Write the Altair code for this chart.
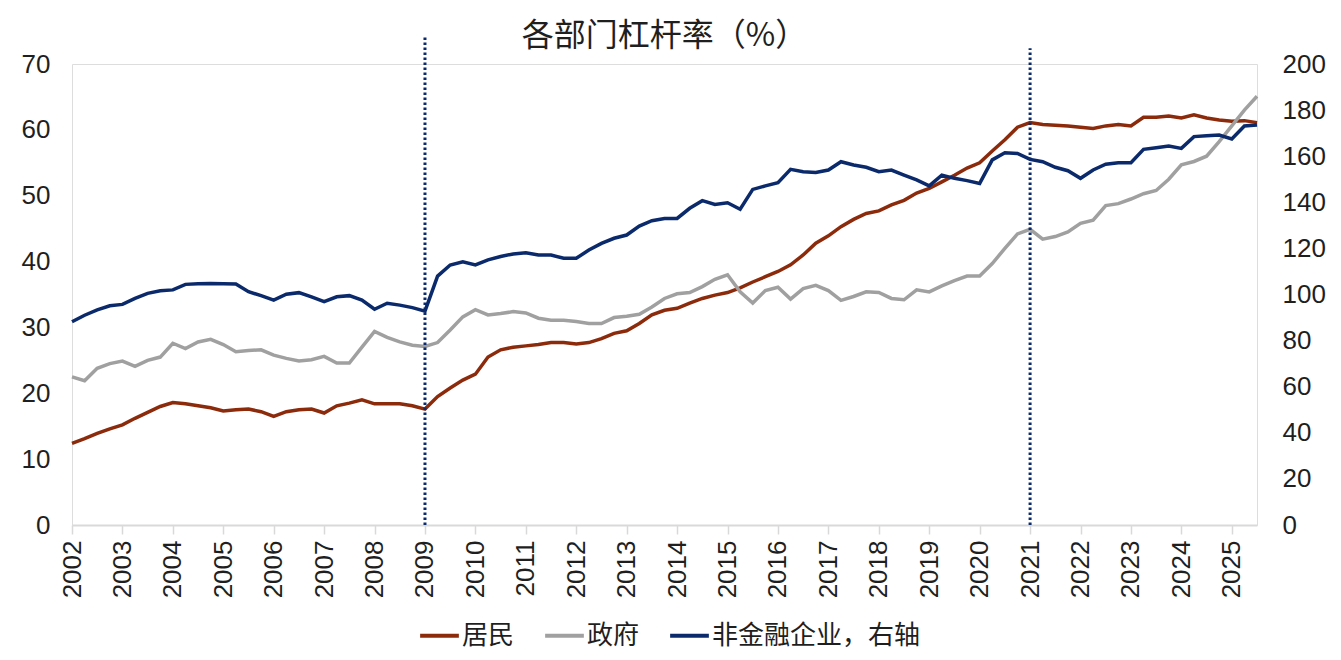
import altair as alt
import pandas as pd

# ---------------- data (quarterly) ----------------
year_ticks = list(range(2002, 2026))
series_names = ["居民", "政府", "非金融企业，右轴"]
series_colors = ["#8C2A0C", "#A0A0A0", "#0B2A6B"]

household = [
    12.4, 13.1, 13.9, 14.6,
    15.2, 16.2, 17.1, 18.0,
    18.6, 18.4, 18.1, 17.8,
    17.3, 17.5, 17.6, 17.2,
    16.5, 17.2, 17.5, 17.6,
    17.0, 18.1, 18.5, 19.0,
    18.4, 18.4, 18.4, 18.1,
    17.6, 19.5, 20.8, 22.0,
    22.9, 25.5, 26.6, 27.0,
    27.2, 27.4, 27.7, 27.7,
    27.5, 27.7, 28.3, 29.1,
    29.5, 30.6, 31.9, 32.6,
    32.9, 33.7, 34.4, 34.9,
    35.3, 36.0, 36.9, 37.7,
    38.5, 39.5, 41.0, 42.8,
    43.9, 45.3, 46.4, 47.3,
    47.7, 48.6, 49.3, 50.4,
    51.1, 52.1, 53.1, 54.2,
    55.0, 56.8, 58.5, 60.4,
    61.1, 60.8, 60.7, 60.6,
    60.4, 60.2, 60.6, 60.8,
    60.6, 61.9, 61.9, 62.1,
    61.8, 62.3, 61.8, 61.5,
    61.3, 61.4, 61.1,
]

government = [
    22.5, 21.9, 23.8, 24.5,
    24.9, 24.1, 25.0, 25.5,
    27.6, 26.8, 27.8, 28.2,
    27.4, 26.3, 26.5, 26.6,
    25.8, 25.3, 24.9, 25.1,
    25.6, 24.6, 24.6, 27.0,
    29.4, 28.5, 27.8, 27.3,
    27.1, 27.7, 29.6, 31.6,
    32.7, 31.9, 32.1, 32.4,
    32.2, 31.4, 31.1, 31.1,
    30.9, 30.6, 30.6, 31.5,
    31.7, 32.0, 33.1, 34.4,
    35.1, 35.3, 36.2, 37.3,
    38.0, 35.4, 33.7, 35.6,
    36.1, 34.3, 35.9, 36.4,
    35.6, 34.1, 34.7, 35.4,
    35.3, 34.4, 34.2, 35.7,
    35.4, 36.3, 37.1, 37.8,
    37.8, 39.7, 42.0, 44.2,
    44.9, 43.4, 43.8, 44.5,
    45.8, 46.3, 48.5, 48.8,
    49.5, 50.3, 50.8, 52.5,
    54.7, 55.2, 56.0, 58.2,
    60.6, 63.0, 65.1,
]

nonfinancial = [
    88.2, 91.0, 93.3, 95.1,
    95.7, 98.3, 100.5, 101.6,
    102.0, 104.4, 104.7, 104.8,
    104.7, 104.6, 101.2, 99.5,
    97.6, 100.1, 100.8, 99.0,
    96.9, 99.0, 99.5, 97.6,
    93.6, 96.2, 95.4, 94.3,
    92.8, 108.0, 112.8, 114.2,
    112.8, 115.0, 116.5, 117.6,
    118.1, 117.1, 117.1, 115.7,
    115.7, 119.3, 122.2, 124.4,
    125.8, 129.7, 132.0, 133.0,
    133.0, 137.4, 140.7, 139.1,
    139.8, 137.0, 145.6, 147.1,
    148.5, 154.3, 153.3, 152.9,
    154.0, 157.6, 156.2, 155.2,
    153.3, 154.0, 151.8, 149.7,
    147.1, 151.8, 150.4, 149.4,
    148.2, 158.4, 161.5, 161.2,
    158.6, 157.6, 155.2, 153.7,
    150.4, 154.0, 156.5, 157.2,
    157.2, 163.0, 163.7, 164.4,
    163.4, 168.5, 168.9, 169.2,
    167.5, 173.1, 173.5,
]

# quarter positions on the time axis: 2002Q1 .. 2025Q3
quarters = [y + k / 4 for y in range(2002, 2026) for k in range(4)][: len(household)]

# dotted marker lines (left-axis units for bottom / top)
vline_x = [2009, 2021]
vline_bottom = [0, 0]
vline_top = [74.4, 72.4]

# ---------------- tables ----------------
left_df = pd.DataFrame(
    {"q": quarters * 2,
     "v": household + government,
     "s": [series_names[0]] * len(household) + [series_names[1]] * len(government)}
)
right_df = pd.DataFrame(
    {"q": quarters, "v": nonfinancial, "s": [series_names[2]] * len(nonfinancial)}
)
rule_df = pd.DataFrame({"q": vline_x, "y0": vline_bottom, "y1": vline_top})

# ---------------- styling ----------------
LAT = "Liberation Sans"
CJK = "Noto Sans CJK SC"
TXT = "#1f1f1f"
NAVY = "#0B2A6B"

x_enc = alt.X(
    "q:Q",
    title=None,
    scale=alt.Scale(domain=[2002, 2025.5], nice=False, zero=False),
    axis=alt.Axis(
        values=year_ticks, format="d", labelAngle=270, labelFont=LAT,
        labelFontSize=26, labelColor=TXT, labelPadding=6,
        ticks=True, tickSize=9, tickColor="#D9D9D9", tickWidth=1.5,
        domainColor="#D9D9D9", domainWidth=2, grid=False, labelFlush=False,
        labelOverlap=False,
    ),
)

left_scale = alt.Scale(domain=[0, 70], nice=False, zero=True)
left_axis = alt.Axis(
    orient="left", values=list(range(0, 71, 10)), domain=False, ticks=False,
    grid=False, labelFont=LAT, labelFontSize=26, labelColor=TXT, labelPadding=22,
)
right_axis = alt.Axis(
    orient="right", values=list(range(0, 201, 20)), domain=False, ticks=False,
    grid=False, labelFont=LAT, labelFontSize=26, labelColor=TXT, labelPadding=25,
)

color_scale = alt.Scale(domain=series_names, range=series_colors)
legend = alt.Legend(
    orient="none", legendX=346, legendY=550, direction="horizontal", title=None,
    symbolType="stroke", symbolSize=1500, symbolStrokeWidth=4,
    labelFont=CJK, labelFontSize=26, labelColor=TXT, labelOffset=1,
    labelLimit=500, columnPadding=22,
)
color_enc = alt.Color("s:N", scale=color_scale, legend=legend,
                      sort=series_names)

lines_left = alt.Chart(left_df).mark_line(strokeWidth=3.5).encode(
    x=x_enc,
    y=alt.Y("v:Q", scale=left_scale, axis=left_axis, title=None),
    color=color_enc,
)

rules = alt.Chart(rule_df).mark_rule(
    color=NAVY, strokeWidth=3, strokeDash=[2.6, 2.4]
).encode(
    x=alt.X("q:Q"),
    y=alt.Y("y0:Q", scale=left_scale, axis=left_axis, title=None),
    y2="y1:Q",
)

line_right = alt.Chart(right_df).mark_line(strokeWidth=3.5).encode(
    x=x_enc,
    y=alt.Y("v:Q", scale=alt.Scale(domain=[0, 200], nice=False), axis=right_axis,
            title=None),
    color=color_enc,
)

chart = (
    alt.layer(alt.layer(lines_left, rules), line_right)
    .resolve_scale(y="independent")
    .properties(
        width=1185,
        height=461,
        padding={"left": 64, "top": 56, "right": 72, "bottom": 127},
        autosize=alt.AutoSizeParams(type="none"),
        title=alt.Title(
            "各部门杠杆率（%）", font=CJK, fontSize=32, fontWeight="normal",
            color=TXT, anchor="middle", frame="group", offset=-19,
        ),
    )
    .configure_view(stroke=None)
    .configure(background="white")
)

chart.save("out.html", embed_options={"renderer": "svg", "actions": False})
